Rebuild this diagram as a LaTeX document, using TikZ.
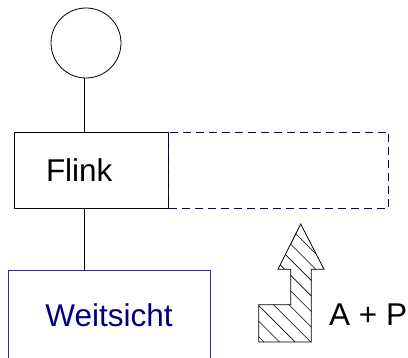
\documentclass[tikz,border=0pt]{standalone}
\usepackage{fontspec}
\setmainfont{Liberation Sans}
\usepackage{xcolor}
\usetikzlibrary{positioning,patterns.meta}
\definecolor{navy}{RGB}{0,0,128}
\definecolor{rahmenblau}{RGB}{40,40,170}
\tikzstyle{kasten} = [draw=black, line width=0.8pt, rectangle,
    inner sep=0pt, font=\fontsize{31.5}{36}\selectfont]
\tikzstyle{blaukasten} = [kasten, draw=rahmenblau, text=navy]
\tikzstyle{strich} = [draw=black, line width=0.8pt]

\begin{document}
\begin{tikzpicture}[x=1pt,y=-1pt]
\useasboundingbox (0,0) rectangle (408,358);
\node [draw, circle, line width=0.8pt, minimum size=70pt, inner sep=0pt] (kreis) at (86,43) {};
\node [kasten, minimum width=154pt, minimum height=76pt, text width=90pt,
    align=left, inner xsep=32pt] (flink) at (91,170) {Flink};
\node [rectangle, draw=navy, line width=0.8pt, dash pattern=on 8pt off 5pt,
    minimum width=220pt, minimum height=76pt, right=0pt of flink] (rahmen) {};
\node [blaukasten, minimum width=202pt, minimum height=90pt] (weitsicht) at (109,315) {Weitsicht};
% Verbindungen
\coordinate (achse) at (84,0);
\draw [strich] (kreis.south -| achse) -- (flink.north -| achse);
\draw [strich] (flink.south -| achse) -- (weitsicht.north -| achse);
% Pfeil
\draw [line width=0.8pt, pattern={Lines[angle=-45, distance=11pt, line width=0.6pt]}]
    (300.7,224) -- (324,269.3) -- (311.3,269.3) -- (311.3,342) -- (258.7,342)
    -- (258.7,304.7) -- (290.7,304.7) -- (290.7,269.3) -- (278,269.3) -- cycle;
\node [font=\fontsize{31.5}{36}\selectfont, anchor=west, inner sep=0pt] (ap) at (329,315) {A + P};
\end{tikzpicture}
\end{document}
